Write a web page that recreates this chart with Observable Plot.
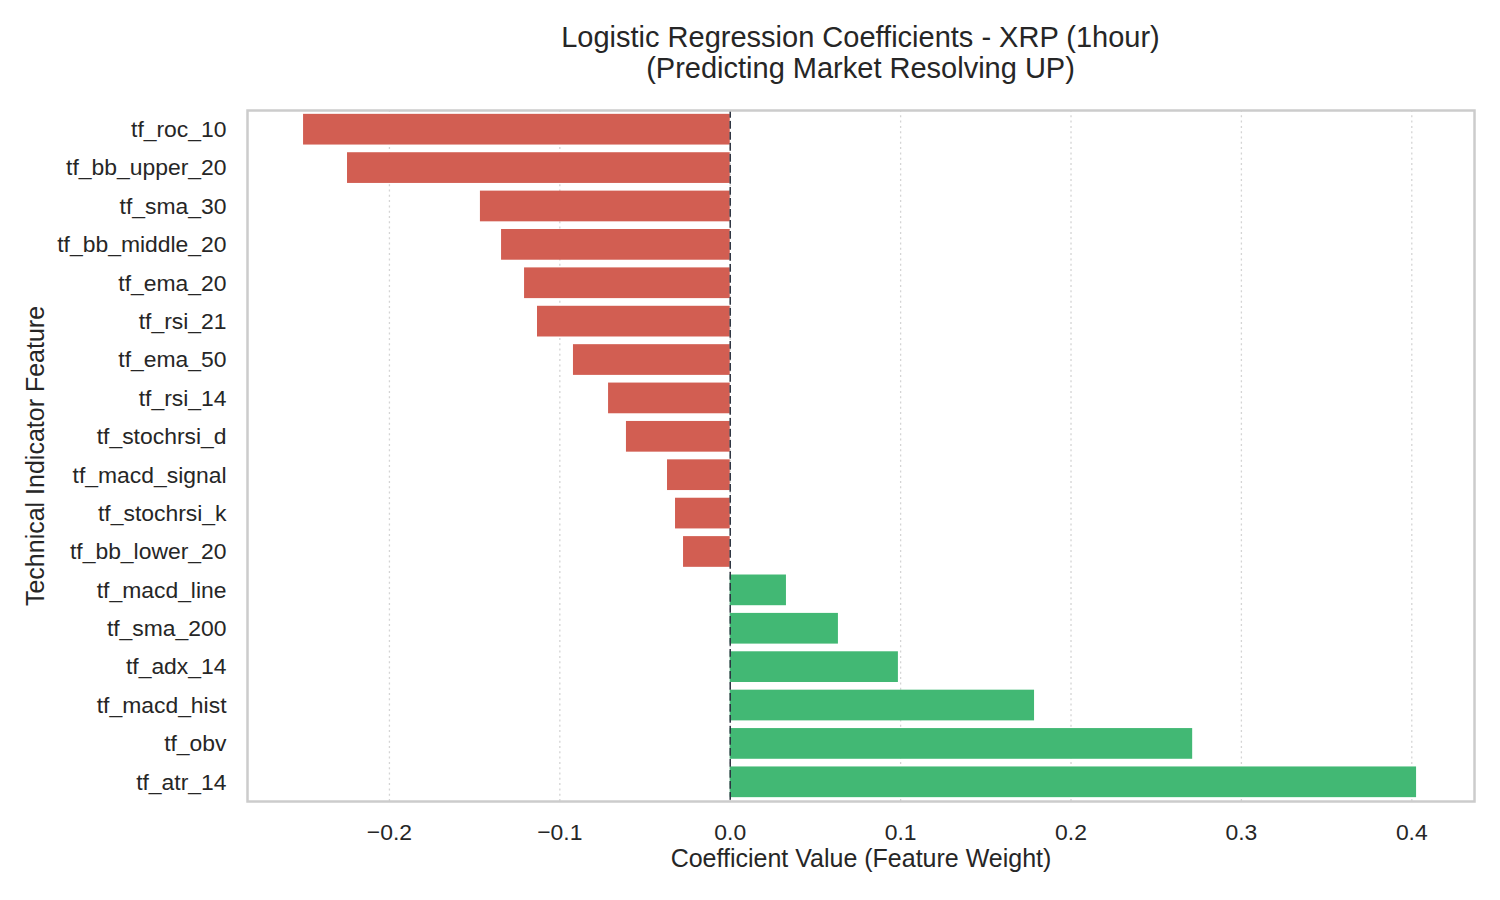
<!DOCTYPE html>
<html>
<head>
<meta charset="utf-8">
<script src="https://cdn.jsdelivr.net/npm/d3@7"></script>
<script src="https://cdn.jsdelivr.net/npm/@observablehq/plot@0.6"></script>
<style>
  html, body { margin: 0; padding: 0; background: #fff; }
  #wrap { position: relative; width: 1500px; height: 900px; font-family: "Liberation Sans", Arial, sans-serif; color: #262626; }
  #title { position: relative; width: 1500px; height: 95px; }
  #title div { position: absolute; left: 0; width: 1721px; text-align: center; font-size: 29px; line-height: 29px; white-space: nowrap; color: #262626; }
  #chart svg { display: block; }
</style>
</head>
<body>
<div id="wrap">
  <div id="title">
    <div style="top:23px">Logistic Regression Coefficients - XRP (1hour)</div>
    <div style="top:54px">(Predicting Market Resolving UP)</div>
  </div>
  <div id="chart"></div>
</div>
<script>
const features = [
  "tf_roc_10", "tf_bb_upper_20", "tf_sma_30", "tf_bb_middle_20", "tf_ema_20", "tf_rsi_21",
  "tf_ema_50", "tf_rsi_14", "tf_stochrsi_d", "tf_macd_signal", "tf_stochrsi_k", "tf_bb_lower_20",
  "tf_macd_line", "tf_sma_200", "tf_adx_14", "tf_macd_hist", "tf_obv", "tf_atr_14"
];
const coefficients = [
  -0.2504, -0.2246, -0.1466, -0.1342, -0.1207, -0.1131,
  -0.0920, -0.0714, -0.0609, -0.0368, -0.0321, -0.0274,
  0.0330, 0.0635, 0.0987, 0.1786, 0.2714, 0.4028
];
const xTicks = [-0.2, -0.1, 0.0, 0.1, 0.2, 0.3, 0.4];
const xLabel = "Coefficient Value (Feature Weight)";
const yLabel = "Technical Indicator Feature";
const negColor = "#d25e52";
const posColor = "#42b874";

const data = features.map((f, i) => ({feature: f, value: coefficients[i]}));

const chart = Plot.plot({
  width: 1500,
  height: 805,
  marginTop: 15,
  marginBottom: 99,
  marginLeft: 247,
  marginRight: 26,
  style: {fontFamily: "'Liberation Sans', Arial, sans-serif", fontSize: "22.9px", color: "#262626", background: "#ffffff"},
  x: {domain: [-0.2833, 0.4368], ticks: xTicks, tickFormat: d3.format(".1f")},
  y: {domain: features, paddingInner: 0.2, paddingOuter: 0.1, round: false},
  marks: [
    Plot.gridX(xTicks, {stroke: "#d4d4d4", strokeOpacity: 1, strokeWidth: 1.3, strokeDasharray: "2,3.3"}),
    Plot.barX(data, {x: "value", y: "feature", fill: d => d.value < 0 ? negColor : posColor}),
    Plot.ruleX([0], {stroke: "#2c3340", strokeWidth: 1.5, strokeDasharray: "7.7,3.3"}),
    Plot.frame({stroke: "#cccccc", strokeWidth: 2.5}),
    Plot.axisX(xTicks, {tickSize: 0, tickPadding: 22, label: null, fontSize: 22.9, tickFormat: d3.format(".1f")}),
    Plot.axisY({tickSize: 0, tickPadding: 21, label: null, fontSize: 22.9}),
    Plot.text([xLabel], {frameAnchor: "bottom", lineAnchor: "bottom", dy: 65.5, fontSize: 25, fill: "#262626"}),
    Plot.text([yLabel], {frameAnchor: "left", dx: -212, rotate: -90, textAnchor: "middle", fontSize: 25, fill: "#262626"})
  ]
});
document.getElementById("chart").appendChild(chart);
</script>
</body>
</html>
